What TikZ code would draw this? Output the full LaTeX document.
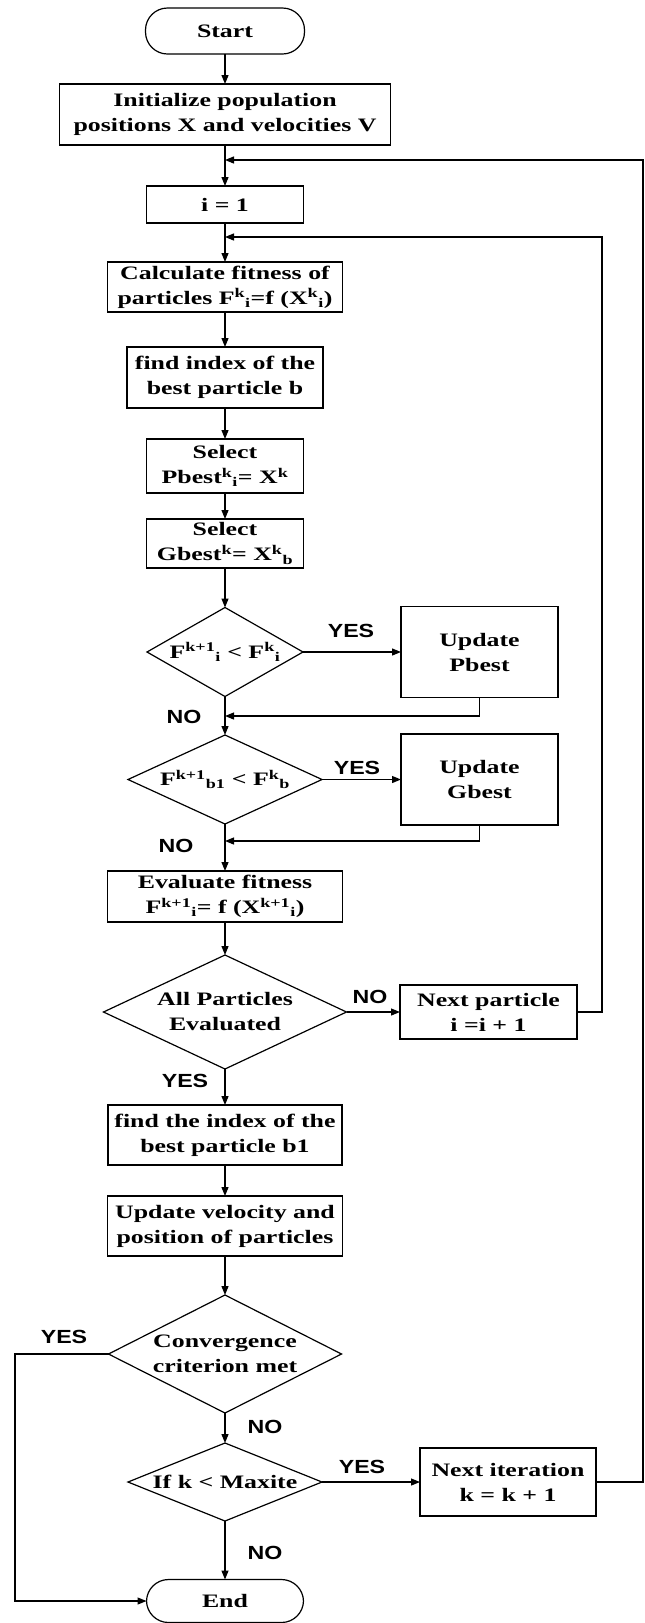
\documentclass[tikz,border=0pt]{standalone}
\usepackage{fontspec}
\setmainfont{Liberation Serif}[FakeStretch=1.36]
\newfontfamily\ynfamily{Liberation Sans}[FakeStretch=1.22]
\usetikzlibrary{arrows.meta,shapes.geometric}
\newcommand\boxfont{\fontsize{19}{25}\selectfont\bfseries}
\newcommand\ynfont{\ynfamily\fontsize{19}{22}\selectfont\bfseries}
\begin{document}
\begin{tikzpicture}[x=1pt,y=-1pt,line width=1.2pt,
  every node/.style={outer sep=0pt},
  box/.style={draw, rectangle, inner sep=0pt, align=center, font=\boxfont},
  term/.style={draw, rectangle, rounded corners=22pt, inner sep=0pt, font=\boxfont},
  dia/.style={draw, diamond, inner sep=0pt},
  txt/.style={inner sep=0pt, align=center, font=\boxfont},
  yn/.style={inner sep=0pt, font=\ynfont},
  arr/.style={-{Triangle[length=9pt,width=7pt]}}
]
\useasboundingbox (0,0) rectangle (645,1623);

\node[term, minimum width=159pt, minimum height=46pt] (start) at (225,31) {Start};
\node[box, minimum width=331pt, minimum height=61pt] (init) at (225,114.5) {Initialize population\\positions X and velocities V};
\node[box, minimum width=157pt, minimum height=37pt] (i1) at (225,204.5) {i = 1};
\node[box, minimum width=235pt, minimum height=50pt] (calc) at (225,287) {Calculate fitness of\\particles F\textsuperscript{k}\textsubscript{i}=f (X\textsuperscript{k}\textsubscript{i})};
\node[box, minimum width=196pt, minimum height=61pt] (find) at (225,377.5) {find index of the\\best particle b};
\node[box, minimum width=157pt, minimum height=54pt] (selp) at (225,466) {Select\\Pbest\textsuperscript{k}\textsubscript{i}= X\textsuperscript{k}};
\node[box, minimum width=157pt, minimum height=49pt] (selg) at (225,543.5) {Select\\Gbest\textsuperscript{k}= X\textsuperscript{k}\textsubscript{b}};

\node[dia, minimum width=156pt, minimum height=89pt] (d1) at (225,652) {};
\node[txt] (d1t) at (d1.center) {F\textsuperscript{k+1}\textsubscript{i} < F\textsuperscript{k}\textsubscript{i}};
\node[box, minimum width=157pt, minimum height=91pt] (upp) at (479.5,652) {Update\\Pbest};

\node[dia, minimum width=194pt, minimum height=89pt] (d2) at (225,779.5) {};
\node[txt] (d2t) at (d2.center) {F\textsuperscript{k+1}\textsubscript{b1} < F\textsuperscript{k}\textsubscript{b}};
\node[box, minimum width=157pt, minimum height=91pt] (upg) at (479.5,779.5) {Update\\Gbest};

\node[box, minimum width=235pt, minimum height=51pt] (eval) at (225,896.5) {Evaluate fitness\\F\textsuperscript{k+1}\textsubscript{i}= f (X\textsuperscript{k+1}\textsubscript{i})};

\node[dia, minimum width=243pt, minimum height=114pt] (d3) at (225,1012) {};
\node[txt] (d3t) at (d3.center) {All Particles\\Evaluated};
\node[box, minimum width=177pt, minimum height=54pt] (nextp) at (488.5,1012) {Next particle\\i =i + 1};

\node[box, minimum width=234pt, minimum height=60pt] (findb) at (225,1135) {find the index of the\\best particle b1};
\node[box, minimum width=235pt, minimum height=60pt] (upv) at (225,1226) {Update velocity and\\position of particles};

\node[dia, minimum width=233pt, minimum height=118pt] (d4) at (225,1354) {};
\node[txt] (d4t) at (d4.center) {Convergence\\criterion met};

\node[dia, minimum width=194pt, minimum height=78pt] (d5) at (225,1482) {};
\node[txt] (d5t) at (d5.center) {If k < Maxite};
\node[box, minimum width=176pt, minimum height=68pt] (nexti) at (508,1482) {Next iteration\\k = k + 1};

\node[term, minimum width=157pt, minimum height=43pt] (end) at (225,1601) {End};

% helper coordinates
\coordinate (l0) at (225,160);
\coordinate (l1) at (225,237);
\coordinate (m1) at (225,716);
\coordinate (m2) at (225,841);
\coordinate (c1) at (602,237);
\coordinate (c2) at (643,160);
\coordinate (c3) at (15,1601);

% connectors
\draw[arr] (start) -- (init);
\draw[arr] (init) -- (i1);
\draw[arr] (i1) -- (calc);
\draw[arr] (calc) -- (find);
\draw[arr] (find) -- (selp);
\draw[arr] (selp) -- (selg);
\draw[arr] (selg) -- (d1.north);
\draw[arr] (d1.east) -- (upp.west);
\draw[arr] (d1.south) -- (d2.north);
\draw[arr] (upp.south) |- (m1);
\draw[arr] (d2.east) -- (upg.west);
\draw[arr] (d2.south) -- (eval);
\draw[arr] (upg.south) |- (m2);
\draw[arr] (eval) -- (d3.north);
\draw[arr] (d3.east) -- (nextp.west);
\draw[arr] (nextp.east) -| (c1) -- (l1);
\draw[arr] (d3.south) -- (findb);
\draw[arr] (findb) -- (upv);
\draw[arr] (upv) -- (d4.north);
\draw[arr] (d4.south) -- (d5.north);
\draw[arr] (d4.west) -| (c3) -- (end.west);
\draw[arr] (d5.south) -- (end.north);
\draw[arr] (d5.east) -- (nexti.west);
\draw[arr] (nexti.east) -| (c2) -- (l0);

% labels
\node[yn] (y1) at (351,631) {YES};
\node[yn] (n1) at (184,717) {NO};
\node[yn] (y2) at (357,768) {YES};
\node[yn] (n2) at (176,846) {NO};
\node[yn] (n3) at (370,997) {NO};
\node[yn] (y3) at (185,1081) {YES};
\node[yn] (y4) at (64,1337) {YES};
\node[yn] (n4) at (265,1427) {NO};
\node[yn] (y5) at (362,1467) {YES};
\node[yn] (n5) at (265,1553) {NO};
\end{tikzpicture}
\end{document}
